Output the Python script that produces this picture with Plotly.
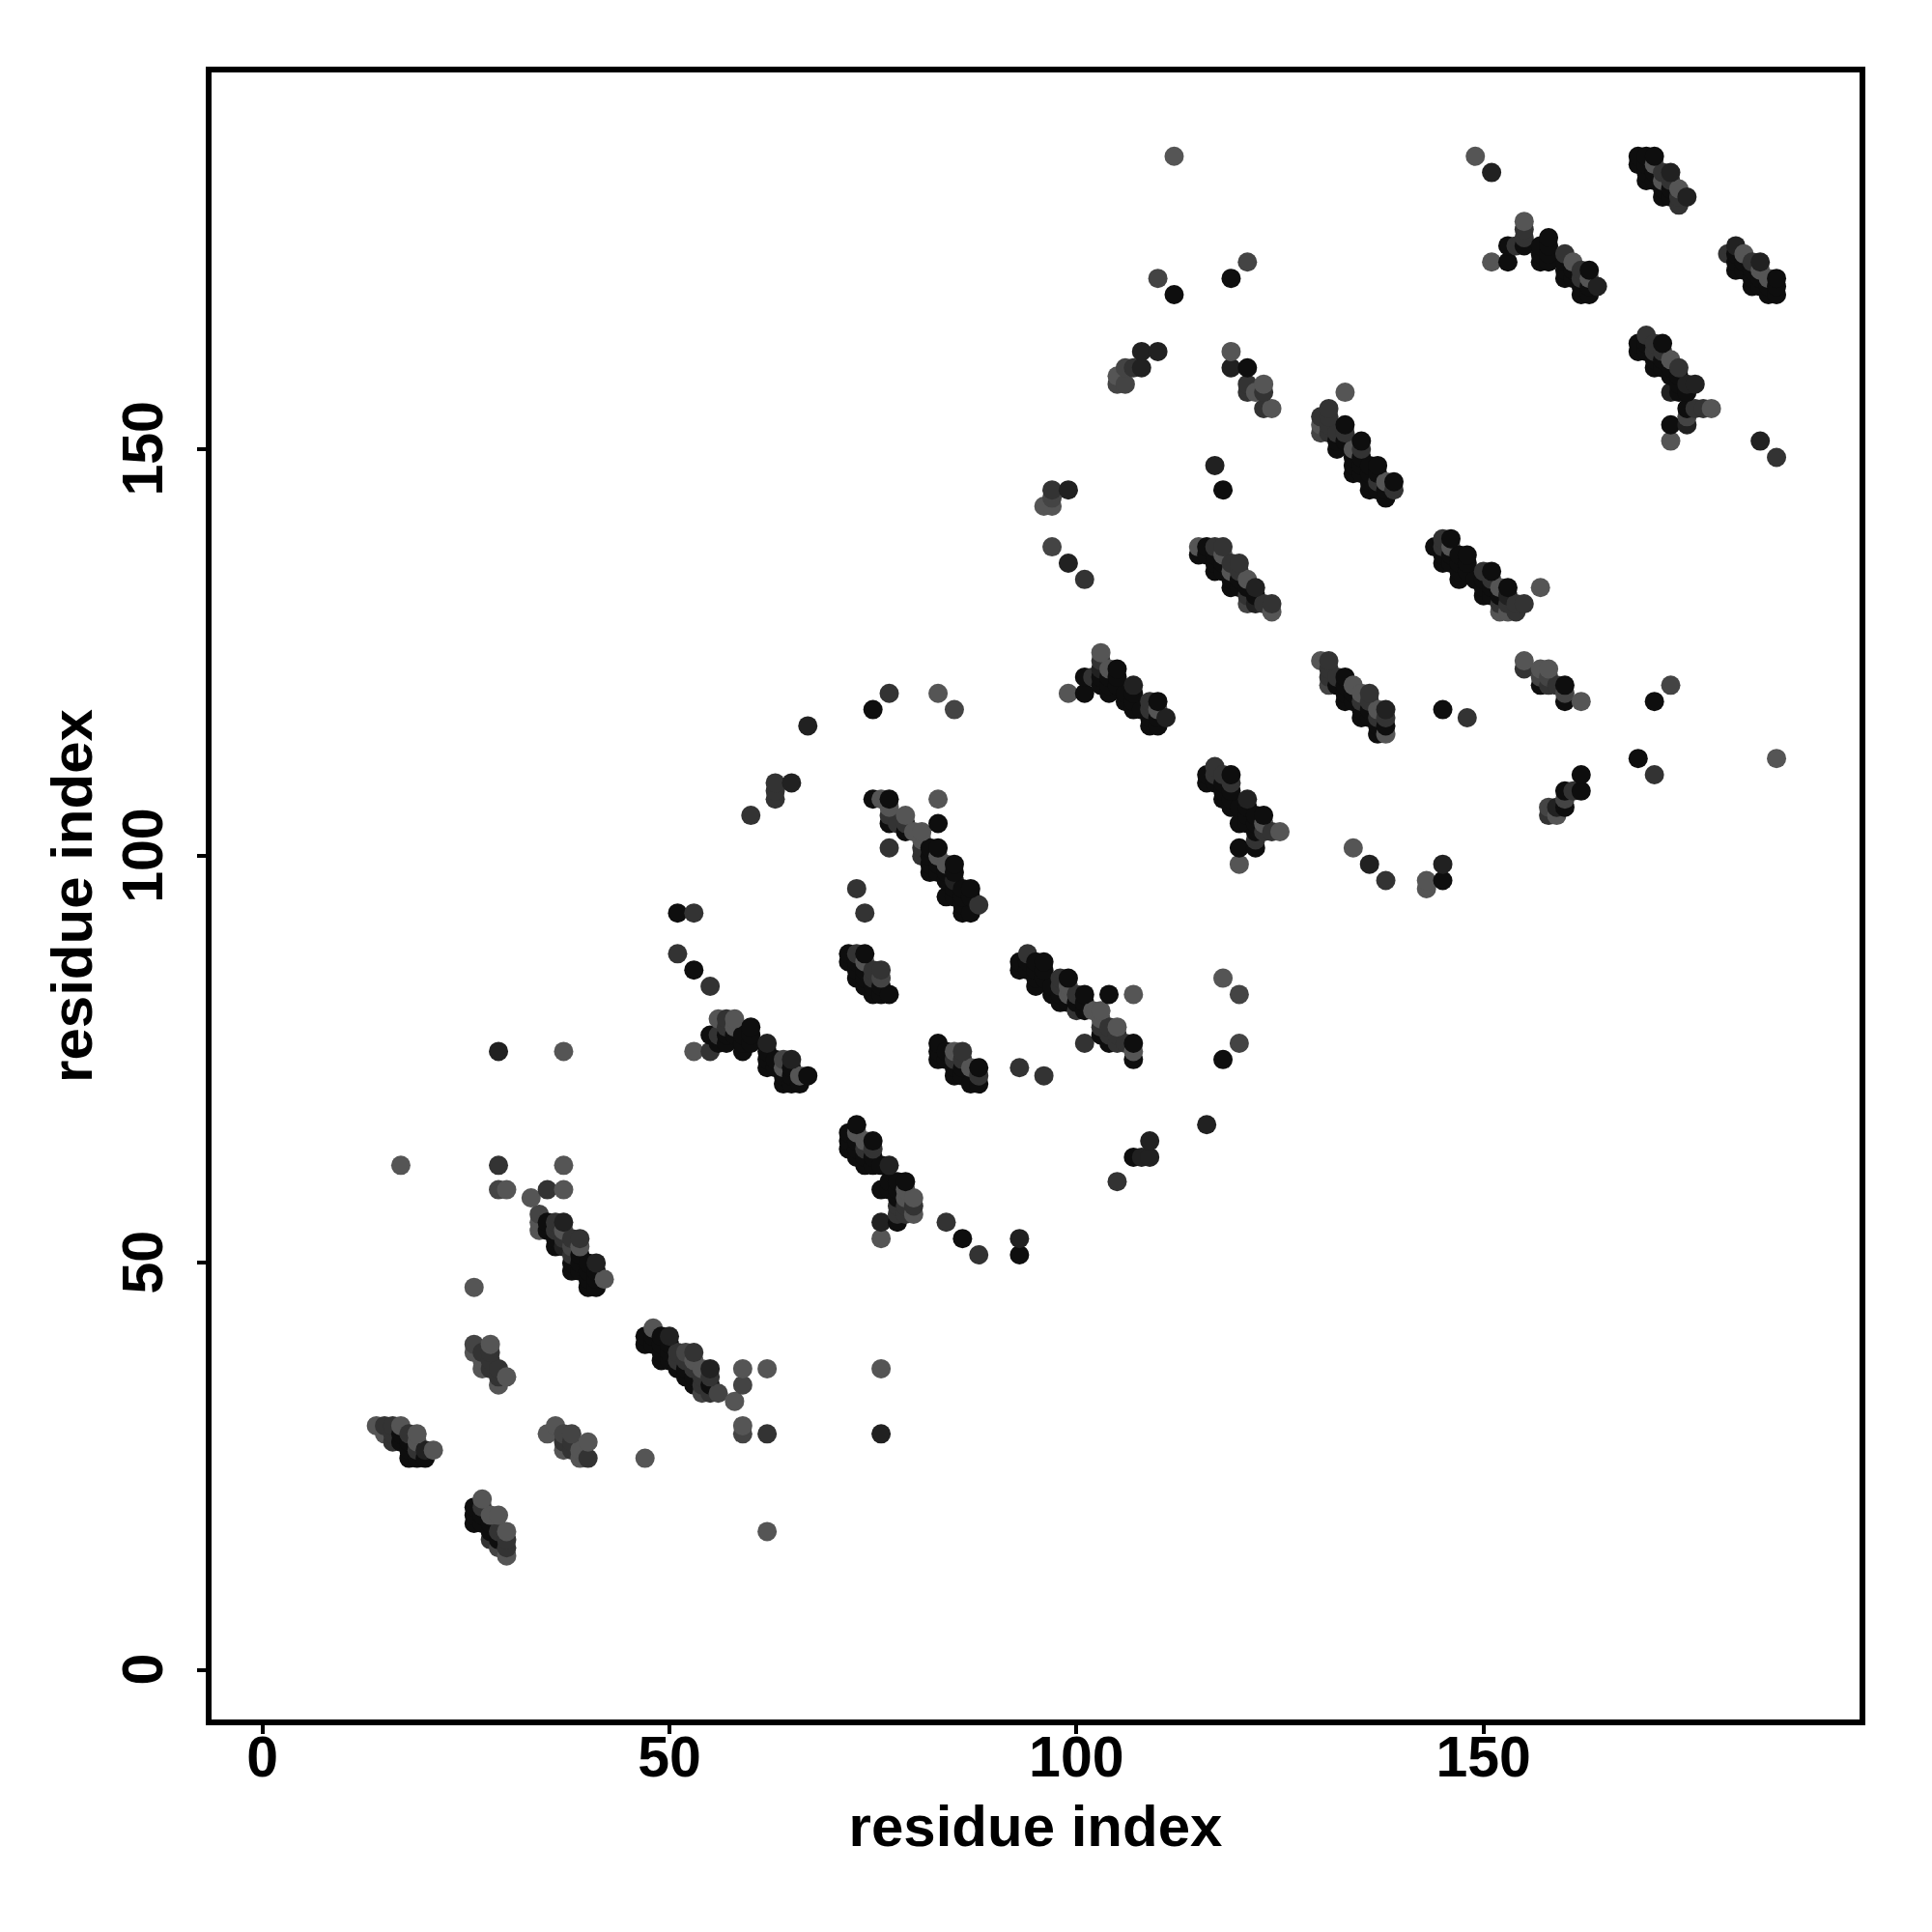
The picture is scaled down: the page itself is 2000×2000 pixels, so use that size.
import plotly.graph_objects as go

L, LM, M, MD, D = 1, 1.5, 2, 2.5, 3

cluster_a = [(14,30,L),(15,30,M),(16,30,M),(17,30,L),(15,29,L),(16,29,M),(17,29,D),(18,29,M),(19,29,L),
 (16,28,M),(17,28,D),(18,28,D),(19,28,L),(18,27,D),(19,27,M),(20,27,MD),(21,27,L),(18,26,D),(19,26,D),(20,26,D)]
cluster_b = [(26,40,LM),(28,40,L),(26,39,L),(27,39,M),(28,39,M),(27,38,L),(28,38,M),(27,37,L),(28,37,M),(29,37,M),
 (29,36,M),(30,36,L),(29,35,L)]
cluster_c = [(35,29,L),(36,30,L),(37,29,LM),(37,28,M),(38,28,M),(37,27,L),(38,27,M),(39,27,L),(40,28,L),(39,26,L),(40,26,M),(38,29,LM)]
cluster_d = [(27,21,L),(26,20,D),(27,20,M),(26,19,D),(27,19,D),(28,19,L),(29,19,L),(26,18,D),(27,18,D),(28,18,D),
 (28,17,D),(29,17,M),(30,17,L),(28,16,M),(29,16,D),(30,16,M),(29,15,LM),(30,15,M),(30,14,L)]
cluster_e = [(34,56,LM),(34,55,L),(35,55,D),(36,55,M),(37,55,MD),(34,54,L),(35,54,D),(36,54,M),(37,54,L),
 (36,53,D),(37,53,M),(38,53,M),(39,53,M),(36,52,D),(37,52,MD),(38,52,LM),(39,52,L),(38,51,M),(39,51,D),
 (38,50,D),(39,50,D),(40,50,D),(41,50,MD),(38,49,D),(39,49,D),(40,49,D),(41,49,D),(40,48,D),(41,48,D),(42,48,L),(40,47,D),(41,47,D)]
cluster_f = [(48,42,L),(47,41,D),(48,41,D),(49,41,D),(50,41,MD),(47,40,D),(48,40,D),(49,40,D),(50,40,D),
 (49,39,D),(50,39,D),(51,39,M),(52,39,LM),(53,39,M),(49,38,D),(50,38,D),(51,38,M),(52,38,M),(53,38,L),
 (51,37,D),(52,37,D),(53,37,M),(54,37,L),(55,37,MD),(52,36,D),(53,36,D),(54,36,M),(55,36,M),(53,35,D),(54,35,M),(55,35,D),
 (54,34,LM),(55,34,M),(56,34,LM)]
cluster_g = [(56,80,L),(57,80,M),(58,80,L),(57,79,M),(58,79,L),(60,79,D),(55,78,D),(56,78,M),(57,78,D),(58,78,D),(59,78,D),(60,78,D),
 (56,77,D),(57,77,D),(59,77,D),(60,77,D),(59,76,D),(62,77,MD),(62,76,D),(62,75,D),(63,75,D),(64,75,LM),(65,75,MD),
 (62,74,D),(63,74,D),(64,74,L),(65,74,D),(64,73,D),(65,73,D),(66,73,L),(67,73,D),(64,72,D),(65,72,D),(66,72,D)]
cluster_h = [(72,88,D),(73,88,M),(74,88,D),(72,87,D),(73,87,D),(74,87,L),(73,86,D),(74,86,D),(75,86,M),(76,86,M),
 (73,85,D),(74,85,D),(75,85,M),(76,85,LM),(74,84,D),(75,84,D),(76,84,D),(75,83,D),(76,83,D),(77,83,D)]
cluster_i = [(73,67,D),(72,66,D),(73,66,L),(72,65,D),(73,65,D),(74,65,L),(75,65,D),(72,64,D),(73,64,D),(74,64,M),(75,64,M),
 (73,63,D),(74,63,D),(75,63,D),(74,62,D),(75,62,D),(76,62,D),(77,62,MD),(77,60,D),(78,60,D),(79,60,D),(76,59,D),(77,59,D),(78,59,D),(79,59,L),
 (78,58,D),(79,58,L),(80,58,L),(78,57,M),(79,57,M),(80,57,M),(78,56,M),(79,56,M),(80,56,L),(78,55,D),(76,55,MD),(76,53,L)]
cluster_j = [(75,107,D),(76,107,L),(77,107,D),(77,106,L),(77,105,M),(79,105,L),(77,104,D),(78,104,M),(79,104,M),
 (79,103,D),(80,103,L),(81,103,L),(81,102,L),(77,101,M),(81,101,M),(82,101,D),(83,101,D),(81,100,M),(82,100,D),(83,100,L),
 (82,99,D),(83,99,D),(84,99,L),(85,99,D),(82,98,D),(83,98,D),(84,98,D),(85,98,D),(84,97,D),(85,97,MD),(85,96,D),(86,96,D),(87,96,D),
 (84,95,D),(85,95,D),(86,95,D),(87,95,D),(86,94,D),(88,94,M),(86,93,D),(87,93,D)]
cluster_k = [(83,77,D),(83,76,D),(84,76,D),(85,76,L),(86,76,M),(83,75,D),(84,75,D),(85,75,M),(86,75,M),
 (85,74,D),(86,74,D),(87,74,L),(88,74,D),(85,73,D),(86,73,D),(88,73,M),(87,72,D),(88,72,D)]
cluster_l = [(94,88,M),(93,87,D),(94,87,D),(95,87,D),(96,87,D),(93,86,D),(94,86,D),(95,86,D),(96,86,D),
 (95,85,D),(96,85,D),(98,85,M),(99,85,D),(95,84,D),(97,84,D),(98,84,M),(99,84,L),(97,83,D),(98,83,D),(99,83,L),(100,83,M),(101,83,D),
 (98,82,D),(99,82,D),(100,82,D),(101,82,D),(100,81,M),(101,81,D),(102,81,L),(103,81,L),(103,80,L),(103,79,M),(104,79,M),(105,79,L),
 (103,78,D),(104,78,M),(105,78,M),(104,77,D),(105,77,M),(106,77,M),(107,77,D),(107,76,L),(107,75,D)]
cluster_m = [(103,125,L),(103,124,M),(103,123,MD),(104,123,L),(105,123,D),(101,122,D),(102,122,M),(103,122,D),(104,122,D),(105,122,D),
 (103,121,D),(104,121,D),(105,121,D),(107,121,MD),(99,120,L),(101,120,D),(104,120,D),(106,120,D),(107,120,D),
 (106,119,D),(107,119,D),(109,119,M),(110,119,D),(107,118,D),(108,118,D),(109,118,M),(110,118,L),(109,117,D),(110,117,D),(111,117,MD),(109,116,D),(110,116,D)]
cluster_n = [(115,138,L),(116,138,D),(117,138,M),(118,138,M),(115,137,D),(116,137,D),(117,137,D),(118,137,L),
 (117,136,D),(118,136,D),(119,136,M),(120,136,M),(117,135,D),(118,135,D),(119,135,L),(120,135,M),(119,134,D),(120,134,D),(121,134,L),
 (119,133,D),(120,133,D),(121,133,D),(122,133,MD),(121,132,M),(122,132,D),(121,131,LM),(122,131,MD),(123,131,M),(124,131,M),(124,130,L)]
cluster_o = [(144,138,D),(145,139,M),(146,139,D),(145,138,M),(146,138,L),(145,137,D),(146,137,D),(147,137,D),(148,137,D),
 (145,136,D),(146,136,D),(147,136,D),(148,136,D),(147,135,D),(148,135,D),(150,135,M),(151,135,D),(147,134,D),(149,134,D),(150,134,D),(151,134,M),
 (150,133,D),(151,133,D),(152,133,L),(153,133,D),(150,132,D),(151,132,D),(152,132,D),(153,132,MD),
 (152,131,M),(153,131,M),(154,131,M),(155,131,M),(152,130,L),(153,130,L),(154,130,M),(157,133,L)]
cluster_p = [(130,124,L),(131,124,M),(131,123,M),(131,122,M),(132,122,M),(133,122,D),(131,121,LM),(132,121,D),(133,121,D),(134,121,L),
 (133,120,D),(134,120,D),(135,120,L),(136,120,M),(133,119,D),(134,119,D),(135,119,M),(136,119,M),
 (135,118,D),(136,118,D),(137,118,L),(138,118,MD),(135,117,D),(136,117,D),(137,117,M),(138,117,M),(137,116,D),(138,116,D),(137,115,D),(138,115,L)]
cluster_q = [(155,124,L),(155,123,M),(157,123,L),(158,123,L),(157,122,LM),(158,122,LM),(157,121,D),(158,121,M),(159,121,M),(160,121,D),(160,120,LM),(160,119,D),(162,119,L)]
cluster_r = [(162,110,D),(160,108,D),(161,108,M),(162,108,D),(160,107,LM),(158,106,LM),(159,106,MD),(160,106,D),(158,105,M),(159,105,L)]
cluster_s = [(117,111,M),(116,110,D),(117,110,M),(118,110,M),(119,110,D),(116,109,D),(117,109,D),(118,109,D),(119,109,M),
 (118,108,D),(119,108,D),(118,107,D),(119,107,D),(121,107,MD),(119,106,D),(120,106,D),(121,106,D),(121,105,D),(122,105,D),(123,105,D),
 (120,104,D),(121,104,D),(122,104,D),(123,104,L),(122,103,D),(123,103,M),(124,103,M),(125,103,L),(122,102,M),(120,101,D),(122,101,D),(120,99,L)]
cluster_t = [(133,157,L),(131,155,M),(130,154,M),(131,154,M),(130,153,L),(131,153,M),(133,153,D),(130,152,LM),(131,152,M),(132,152,M),(133,152,M),
 (132,151,D),(133,151,D),(135,151,D),(132,150,D),(134,150,L),(135,150,M),(134,149,D),(135,149,D),(134,148,D),(135,148,D),(136,148,D),(137,148,D),
 (134,147,D),(135,147,D),(136,147,D),(137,147,D),(136,146,D),(137,146,M),(138,146,L),(139,146,D),(136,145,D),(137,145,D),(138,145,D),(139,145,M),(138,144,D)]
cluster_u = [(155,178,L),(155,177,M),(155,176,M),(158,176,D),(153,175,D),(154,175,M),(155,175,D),(157,175,D),(158,175,D),
 (157,174,D),(158,174,D),(160,174,M),(151,173,L),(153,173,D),(157,173,D),(158,173,D),(160,173,D),(161,173,L),(160,172,D),(161,172,D),(162,172,M),(163,172,D),
 (160,171,D),(161,171,D),(162,171,M),(163,171,L),(162,170,D),(163,170,D),(164,170,MD),(162,169,D),(163,169,D)]
cluster_v = [(169,186,D),(170,186,D),(171,186,D),(169,185,D),(170,185,D),(171,185,L),(170,184,D),(171,184,D),(172,184,M),(173,184,MD),
 (170,183,D),(171,183,D),(172,183,L),(173,183,M),(172,182,D),(173,182,D),(174,182,L),(172,181,D),(173,181,D),(174,181,M),(175,181,MD),(174,180,M)]
cluster_w = [(180,174,M),(181,175,MD),(181,174,D),(182,174,L),(181,173,D),(182,173,D),(183,173,M),(184,173,MD),(181,172,D),(182,172,D),(183,172,D),(184,172,L),
 (183,171,D),(184,171,D),(185,171,L),(186,171,D),(183,170,D),(184,170,D),(185,170,D),(186,170,D),(185,169,D),(186,169,D)]
cluster_x = [(170,164,M),(169,163,D),(170,163,D),(171,163,M),(172,163,D),(169,162,D),(170,162,D),(171,162,M),(172,162,M),
 (171,161,D),(172,161,D),(173,161,L),(171,160,D),(172,160,D),(173,160,D),(174,160,M),(173,159,D),(174,159,D),(174,158,D),(175,158,MD),(176,158,MD),
 (173,157,MD),(174,157,D),(175,157,D),(175,155,D),(176,155,M),(177,155,M),(178,155,L),(175,154,LM),(175,153,MD),(173,153,D),(173,151,L)]
cluster_y = [(97,145,M),(97,144,LM),(99,145,MD),(96,143,L),(97,143,L),(97,138,LM),(99,136,MD),(101,134,M),
 (105,159,L),(105,158,LM),(106,160,LM),(106,158,LM),(107,160,M),(108,162,MD),(108,160,MD),(110,162,MD),
 (119,162,L),(119,160,MD),(121,160,D),(121,158,M),(123,158,L),(121,157,M),(122,157,L),(123,157,M),(123,155,M),(124,155,L)]
isolated = [(17,62,L),(29,62,M),(37,62,L),(29,59,LM),(30,59,L),(35,59,M),(37,59,L),(33,58,L),(29,76,MD),(37,76,L),(26,47,L),
 (47,26,L),(59,37,L),(62,37,L),(59,35,LM),(58,33,L),(59,30,L),(59,29,LM),(62,29,M),(62,17,L),(76,37,L),(76,29,MD),
 (51,93,D),(53,93,M),(51,88,M),(53,86,D),(55,84,M),(53,76,L),(55,76,M),(74,93,M),(73,96,M),
 (84,55,M),(86,53,D),(88,51,M),(93,53,MD),(93,51,D),(105,60,M),(107,63,D),(108,63,MD),(109,63,MD),(109,65,MD),(116,67,MD),
 (83,107,L),(83,104,D),(93,74,M),(96,73,M),(101,77,M),(104,83,D),(107,83,L),(118,85,L),(120,83,LM),(120,77,LM),(118,75,D),
 (112,186,L),(110,171,LM),(112,169,D),(119,171,D),(121,173,LM),(117,148,MD),(118,145,D),
 (67,116,MD),(75,118,D),(77,120,M),(83,120,L),(85,118,LM),(60,105,M),(63,109,M),(63,108,M),(63,107,M),(65,109,MD),
 (134,101,L),(136,99,MD),(138,97,M),(143,97,L),(143,96,L),(145,99,MD),(145,97,D),(145,118,D),(148,117,M),
 (169,112,D),(171,110,M),(171,119,D),(173,121,LM),(186,112,L),(149,186,L),(151,184,MD),(184,151,MD),(186,149,M)]

all_clusters = [cluster_a, cluster_b, cluster_c, cluster_d, cluster_e, cluster_f, cluster_g, cluster_h, cluster_i, cluster_j,
                cluster_k, cluster_l, cluster_m, cluster_n, cluster_o, cluster_p, cluster_q, cluster_r, cluster_s, cluster_t,
                cluster_u, cluster_v, cluster_w, cluster_x, cluster_y, isolated]
tick_values = [0, 50, 100, 150]
tick_labels = ["0", "50", "100", "150"]

points = sorted((p for c in all_clusters for p in c), key=lambda p: p[0] + p[1])

fig = go.Figure(go.Scatter(
    x=[p[0] for p in points], y=[p[1] for p in points], mode="markers",
    marker=dict(size=20, color=[p[2] for p in points], cmin=1, cmax=3, showscale=False,
                colorscale=[[0, "#555555"], [0.5, "#333333"], [1, "#0e0e0e"]], line=dict(width=0)),
    hoverinfo="skip"))

font = dict(family="Liberation Sans", size=59, color="black", weight="bold")
title_font = dict(family="Liberation Sans", size=60, color="black", weight="bold")
common = dict(tickvals=tick_values, ticks="outside", ticklen=9, tickwidth=4, tickcolor="black",
              showline=True, mirror=True, linecolor="black", linewidth=6, showgrid=False, zeroline=False,
              tickfont=font)
fig.update_xaxes(range=[-6.25, 196.2], ticklabelstandoff=-27, ticktext=tick_labels,
                 title=dict(text="residue index", font=title_font, standoff=20), **common)
fig.update_yaxes(range=[-6.1, 196.3], tickangle=-90, ticklabelstandoff=12,
                 ticktext=[t + "\u00a0" for t in tick_labels],
                 title=dict(text="residue index", font=title_font, standoff=2), **common)
fig.update_layout(width=2000, height=2000, margin=dict(l=211, r=83, t=67, b=228, autoexpand=False),
                  plot_bgcolor="white", paper_bgcolor="white", showlegend=False)
fig.write_html("out.html")
